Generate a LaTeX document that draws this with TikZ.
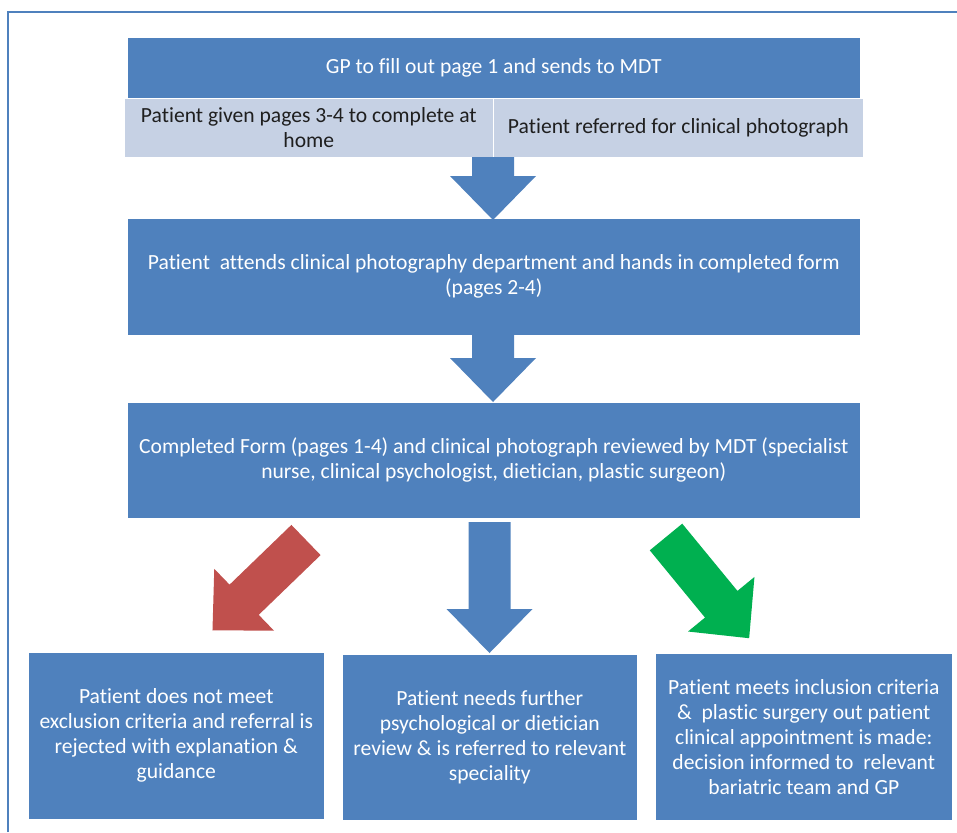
\documentclass[tikz,border=0pt]{standalone}
\usepackage{fontspec}
\setmainfont{Carlito}[Ligatures=NoCommon]
\usetikzlibrary{positioning}
\definecolor{boxblue}{HTML}{4F81BD}
\definecolor{rowgrey}{HTML}{C6D1E4}
\definecolor{rejectred}{HTML}{C0504D}
\definecolor{acceptgreen}{HTML}{00B050}
\tikzset{
	stage/.style={draw=white, line width=0.6pt, fill=boxblue, text=white, align=center,
			inner sep=0pt, anchor=north west, font=\fontsize{21.6}{25}\selectfont},
	subrow/.style={stage, fill=rowgrey, text=black!88},
	pics/blockarrow/.style={
			code={\fill[pic actions] (-21,0) -- (21,0) -- (21,#1-44) -- (43,#1-44) -- (0,#1)
					-- (-43,#1-44) -- (-21,#1-44) -- cycle;}
		}
}

\begin{document}
\begin{tikzpicture}[x=1pt, y=-1pt]
		\useasboundingbox (0,0) rectangle (957,832);
		\draw[boxblue, line width=2pt]	(8,832) -- (8,12) -- (957,12);

		\node[stage, minimum width=733, minimum height=61] (gp) at (127,37) {GP to fill out page 1 and sends to MDT};
		\node[subrow, minimum width=369, minimum height=59] (homecell) at (124,98) {Patient given pages 3-4 to complete at\\home};
		\node[subrow, minimum width=370, minimum height=59] (photocell) at (493,98) {Patient referred for clinical photograph};

		\node[stage, minimum width=733, minimum height=117] (attend) at (127,218) {Patient\ \ attends clinical photography department and hands in completed form\\(pages 2-4)};
		\node[stage, minimum width=733, minimum height=116] (review) at (127,402) {Completed Form (pages 1-4) and clinical photograph reviewed by MDT (specialist\\nurse, clinical psychologist, dietician, plastic surgeon)};

		\node[stage, minimum width=296, minimum height=167] (reject) at (28,652) {Patient does not meet\\exclusion criteria and referral is\\rejected with explanation \&\\guidance};
		\node[stage, minimum width=295, minimum height=166] (further) at (342,654) {Patient needs further\\psychological or dietician\\review \& is referred to relevant\\speciality};
		\node[stage, minimum width=297, minimum height=167] (accept) at (655,653) {Patient meets inclusion criteria\\\&\ \ plastic surgery out patient\\clinical appointment is made:\\decision informed to\ \ relevant\\bariatric team and GP};

		\pic[fill=boxblue] at (493,157) {blockarrow=63};
		\pic[fill=boxblue] at (493,335) {blockarrow=67};
		\pic[fill=boxblue] at (489.5,522) {blockarrow=131};
		\pic[fill=rejectred, rotate=-46] at (306,540) {blockarrow=130};
		\pic[fill=acceptgreen, rotate=39.4] at (666,537) {blockarrow=131};
	\end{tikzpicture}
\end{document}
